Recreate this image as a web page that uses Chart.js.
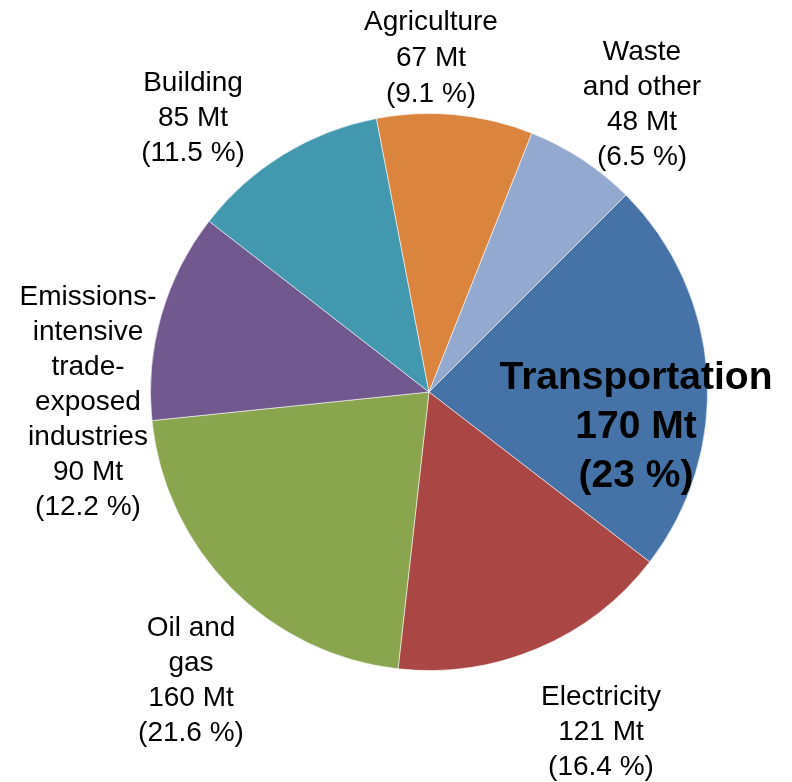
<!DOCTYPE html>
<html>
<head>
<meta charset="utf-8">
<script src="https://cdn.jsdelivr.net/npm/chart.js@4"></script>
<style>
html,body{margin:0;padding:0;background:#fff;}
#wrap{width:792px;height:782px;position:relative;}
</style>
</head>
<body>
<div id="wrap"><canvas id="c" width="792" height="782"></canvas></div>
<script>
const categories = ["Transportation","Electricity","Oil and gas","Emissions-intensive trade-exposed industries","Building","Agriculture","Waste and other"];
const emissionsMt = [170, 121, 160, 90, 85, 67, 48];
const percentLabels = ["23 %","16.4 %","21.6 %","12.2 %","11.5 %","9.1 %","6.5 %"];
const labelLines = [
  ["Transportation"],
  ["Electricity"],
  ["Oil and","gas"],
  ["Emissions-","intensive","trade-","exposed","industries"],
  ["Building"],
  ["Agriculture"],
  ["Waste","and other"]
];
const sliceColors = ["#4572A7","#AA4643","#89A54E","#71588F","#4198AF","#DB843D","#93A9CF"];

// label anchor (center x, first line center y), styling
const labelLayout = [
  {x:636, y:378, lh:49, bold:true, size:39},
  {x:601, y:697, lh:35, bold:false, size:28},
  {x:191, y:628, lh:35, bold:false, size:28},
  {x:88,  y:297, lh:35, bold:false, size:28},
  {x:193, y:83,  lh:35, bold:false, size:28},
  {x:431, y:22,  lh:36, bold:false, size:28},
  {x:642, y:52,  lh:35, bold:false, size:28}
];

const labelPlugin = {
  id:'sliceLabels',
  afterDraw(chart){
    const ctx = chart.ctx;
    ctx.save();
    ctx.fillStyle = '#000';
    ctx.textAlign = 'center';
    ctx.textBaseline = 'middle';
    labelLines.forEach((lines, i) => {
      const L = labelLayout[i];
      ctx.font = (L.bold ? 'bold ' : '') + L.size + 'px "Liberation Sans", Arial, sans-serif';
      const all = lines.concat([emissionsMt[i] + ' Mt', '(' + percentLabels[i] + ')']);
      all.forEach((t, k) => ctx.fillText(t, L.x, L.y + k * L.lh));
    });
    ctx.restore();
  }
};

new Chart(document.getElementById('c'), {
  type:'pie',
  data:{
    labels:categories,
    datasets:[{
      data:emissionsMt,
      backgroundColor:sliceColors,
      borderColor:'rgba(255,255,255,0.55)',
      borderWidth:1
    }]
  },
  options:{
    responsive:false,
    animation:false,
    rotation:45,
    layout:{padding:{top:113,bottom:111,left:150,right:84}},
    plugins:{legend:{display:false},tooltip:{enabled:false}}
  },
  plugins:[labelPlugin]
});
</script>
</body>
</html>
